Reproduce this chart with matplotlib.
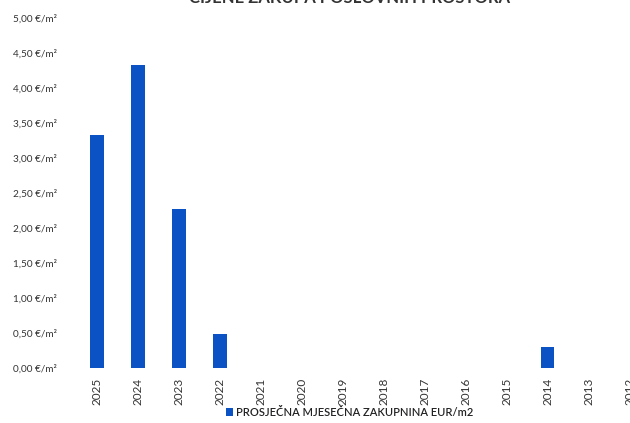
import matplotlib.pyplot as plt
from matplotlib.ticker import FuncFormatter

years = ["2025", "2024", "2023", "2022", "2021", "2020", "2019", "2018",
         "2017", "2016", "2015", "2014", "2013", "2012"]
rent = [3.33, 4.33, 2.27, 0.49, 0, 0, 0, 0, 0, 0, 0, 0.30, 0, 0]
series_name = "PROSJEČNA MJESEČNA ZAKUPNINA EUR/m2"
title = "CIJENE ZAKUPA POSLOVNIH PROSTORA"

plt.rcParams["font.family"] = ["Lato", "DejaVu Sans"]

fig = plt.figure(figsize=(6.3, 4.23), dpi=100)
ax = fig.add_axes([0.1214, 0.130, 0.911, 0.8274])

x = range(len(years))
ax.bar(x, rent, width=0.32, color="#0b52c4", label=series_name)

ax.set_xlim(-0.5, len(years) - 0.5)
ax.set_ylim(0, 5)
ax.set_yticks([i * 0.5 for i in range(11)])
ax.yaxis.set_major_formatter(FuncFormatter(lambda v, p: f"{v:.2f}".replace(".", ",") + " €/m²"))
ax.set_xticks(list(x))
ax.set_xticklabels(years, rotation=90, fontsize=8.5, color="#333333")
ax.tick_params(axis="y", labelsize=7.2, colors="#333333", length=0, pad=14)
ax.tick_params(axis="x", length=0, pad=7)
for s in ax.spines.values():
    s.set_visible(False)

fig.text(0.555, 1.005, title, ha="center", va="center", fontsize=12,
         fontweight="bold", color="#333333")

fig.legend(loc="center", bbox_to_anchor=(0.555, 0.025), frameon=False,
           prop={"size": 8, "weight": "semibold"}, handlelength=0.6,
           handleheight=0.6, handletextpad=0.3, labelcolor="#222222")

fig.savefig("out.png", dpi=100)
